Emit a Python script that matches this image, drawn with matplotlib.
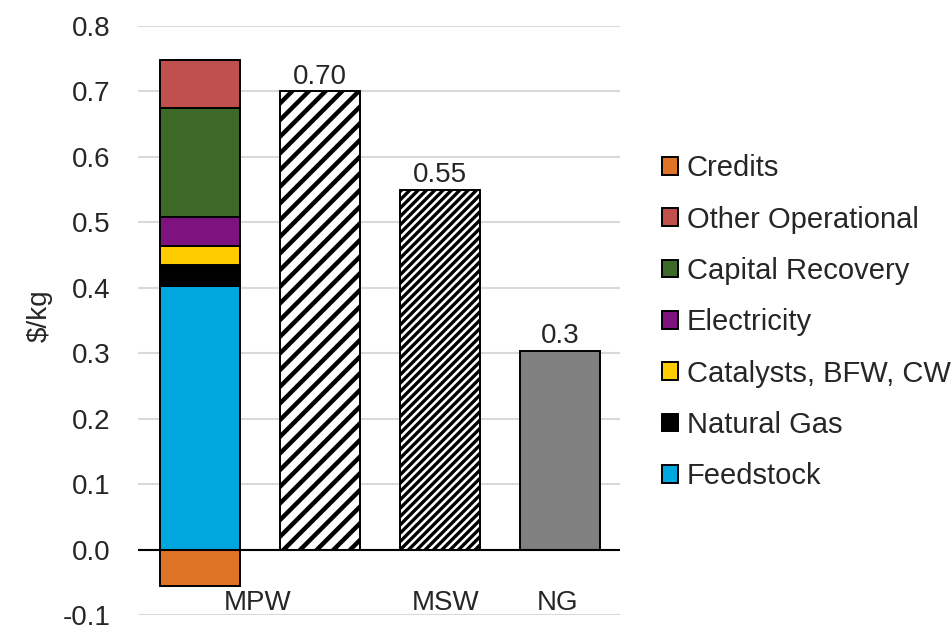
import matplotlib
matplotlib.use('Agg')
import matplotlib.pyplot as plt

plt.rcParams['font.family'] = ['Liberation Sans', 'DejaVu Sans']

# MPW cost breakdown (bottom to top), $/kg
cost_labels = ['Feedstock', 'Natural Gas', 'Catalysts, BFW, CW', 'Electricity',
               'Capital Recovery', 'Other Operational']
mpw_costs = [0.403, 0.032, 0.029, 0.044, 0.167, 0.073]
cost_colors = ['#00a6de', '#000000', '#ffcc00', '#7e127e', '#3d6a28', '#c0504d']
credits_value = -0.055
credits_color = '#e07426'

# comparison bars
compare_values = [0.70, 0.55, 0.304]
compare_text = ['0.70', '0.55', '0.3']

category_names = ['MPW', 'MSW', 'NG']
category_pos = [0.48, 2.05, 2.98]

text_color = '#262626'
fs = 20

fig = plt.figure(figsize=(9.52, 6.26), dpi=100)
ax = fig.add_axes([138 / 952, 11 / 626, 482 / 952, 589 / 626])

width = 0.66
bottom = 0
handles = {}
for label, val, col in zip(cost_labels, mpw_costs, cost_colors):
    b = ax.bar(0, val, width, bottom=bottom, color=col, edgecolor='black', linewidth=1.4, zorder=3)
    handles[label] = b
    bottom += val
handles['Credits'] = ax.bar(0, credits_value, width, color=credits_color, edgecolor='black',
                            linewidth=1.4, zorder=3)

# hatched / plain comparison bars
plt.rcParams['hatch.linewidth'] = 3.2
b2 = ax.bar(1, compare_values[0], width, color='white', edgecolor='black', hatch='//',
            linewidth=1.4, zorder=3)
plt.rcParams['hatch.linewidth'] = 2.4
b3 = ax.bar(2, compare_values[1], width, color='white', edgecolor='black', hatch='////',
            linewidth=1.4, zorder=3)
b4 = ax.bar(3, compare_values[2], width, color='#808080', edgecolor='black',
            linewidth=1.4, zorder=3)

for x, v, t in zip([1, 2, 3], compare_values, compare_text):
    ax.text(x, v + 0.002, t, ha='center', va='bottom', fontsize=fs, color=text_color)

for x, name in zip(category_pos, category_names):
    ax.text(x, -0.081, name, ha='center', va='center', fontsize=fs, color=text_color)

ax.set_xlim(-0.517, 3.5)
ax.set_ylim(-0.1, 0.8)
ax.set_yticks([-0.1, 0.0, 0.1, 0.2, 0.3, 0.4, 0.5, 0.6, 0.7, 0.8])
ax.set_yticklabels([f'{v:.1f}' for v in ax.get_yticks()])
ax.set_xticks([])
ax.tick_params(axis='y', length=0, pad=20, labelsize=fs, labelcolor=text_color)
ax.grid(axis='y', color='#d9d9d9', linewidth=1.5, zorder=0)
ax.axhline(0, color='black', linewidth=1.5, zorder=4)
for s in ax.spines.values():
    s.set_visible(False)

fig.text(40 / 952, 1 - 316 / 626, '$/kg', rotation=90, ha='center', va='center',
         fontsize=fs, color=text_color)

legend_order = ['Credits'] + cost_labels[::-1]
ax.legend([handles[k] for k in legend_order], legend_order, loc='center left',
          bbox_to_anchor=(1.087, 0.497), frameon=False, fontsize=21, labelcolor=text_color,
          borderpad=0, borderaxespad=0,
          handlelength=0.55, handleheight=0.55, handletextpad=0.3, labelspacing=0.8)

fig.savefig('out.png', dpi=100)
